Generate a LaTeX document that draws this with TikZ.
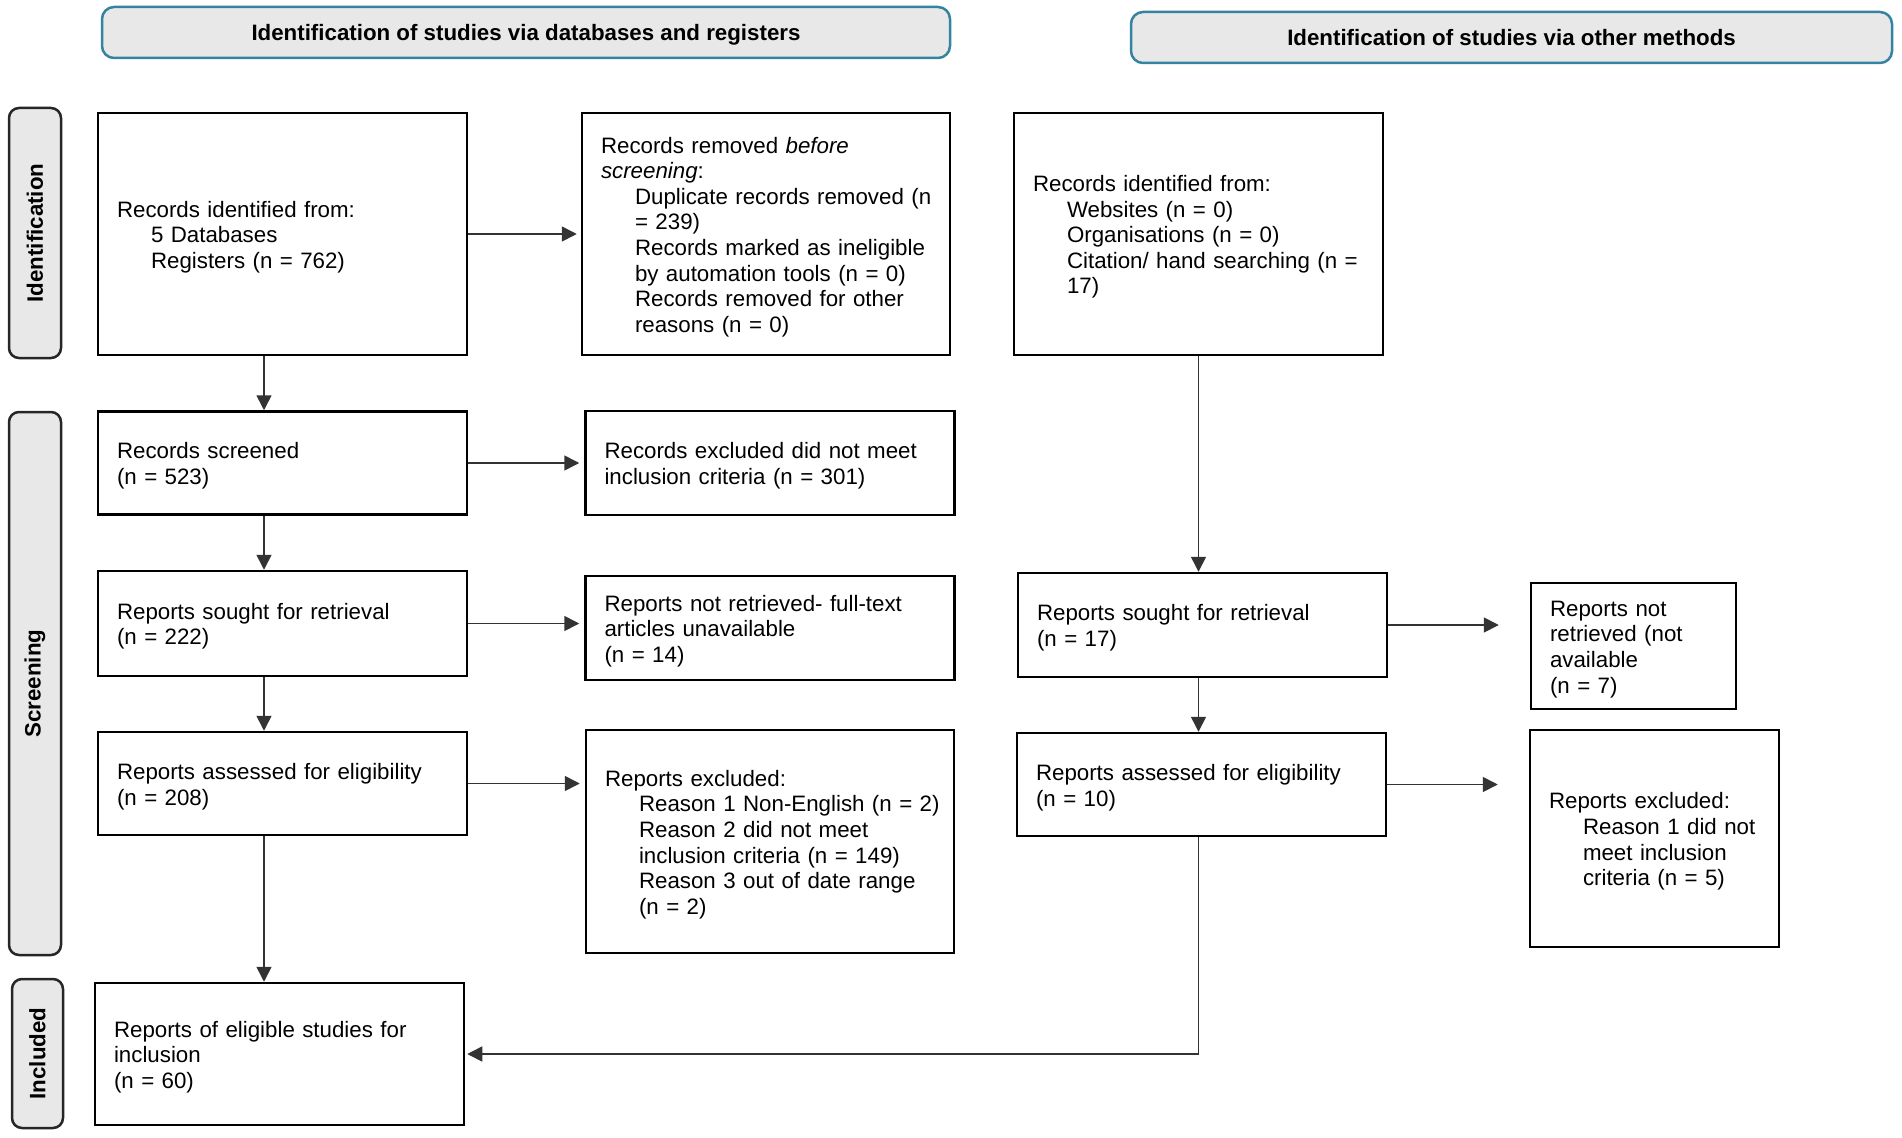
\documentclass[tikz,border=0pt]{standalone}
\usepackage{fontspec}
\setmainfont{Liberation Sans}
\usetikzlibrary{arrows.meta,positioning}

\definecolor{headblue}{RGB}{52,131,160}
\definecolor{panelgray}{RGB}{232,232,232}
\newcommand{\subline}[1]{\hspace*{34pt}\mbox{#1}}

\begin{document}
\begin{tikzpicture}[x=1pt, y=-1pt,
    every node/.style={font=\fontsize{22.3}{25.6}\selectfont},
    box/.style 2 args={draw, line width=2.5pt, align=left, inner xsep=19pt, inner ysep=0pt,
        text width=#1pt, minimum width=#1pt+38pt, minimum height=#2pt,
        execute at begin node={\rule{0pt}{22pt}}},
    header/.style={draw=headblue, fill=panelgray, line width=2.5pt, rounded corners=12pt,
        text depth=0pt, font=\bfseries\fontsize{22.3}{25.6}\selectfont},
    phase/.style={draw=black!85, fill=panelgray, line width=2.5pt, rounded corners=10pt,
        rotate=90, font=\bfseries\fontsize{22.3}{25.6}\selectfont},
    conn/.style={draw=black!80, line width=1.6pt, -{Triangle[length=15pt,width=15pt]}}]
    \useasboundingbox (0,0) rectangle (1902,1137);

    % Headers
    \node[header, minimum width=848pt, minimum height=51pt] (headDb) at (526,32.5)
        {Identification of studies via databases and registers};
    \node[header, minimum width=761pt, minimum height=51pt] (headOther) at (1511.5,37.5)
        {Identification of studies via other methods};

    % Phase labels
    \node[phase, minimum width=250pt, minimum height=52pt] (phaseId) at (35,233) {Identification};
    \node[phase, minimum width=543pt, minimum height=52pt] (phaseScr) at (35,683.5) {Screening};
    \node[phase, minimum width=149pt, minimum height=51pt] (phaseInc) at (37.5,1053.5) {Included};

    % Databases and registers
    \node[box={331}{242}] (idDb) at (282.5,234)
        {Records identified from:\\ \subline{5 Databases}\\ \subline{Registers (n = 762)}};
    \node[box={330}{242}] (remDb) at (766,234)
        {Records removed \textit{before}\\ \textit{screening}:\\
         \subline{Duplicate records removed (n}\\ \subline{= 239)}\\
         \subline{Records marked as ineligible}\\ \subline{by automation tools (n = 0)}\\
         \subline{Records removed for other}\\ \subline{reasons (n = 0)}};
    \node[box={331}{103}] (scrDb) at (282.5,463) {Records screened\\ (n = 523)};
    \node[box={331}{104}] (exclDb) at (770,463)
        {Records excluded did not meet\\ inclusion criteria (n = 301)};
    \node[box={331}{105}] (soughtDb) at (282.5,623.5) {Reports sought for retrieval\\ (n = 222)};
    \node[box={331}{104}] (notRetDb) at (770,628)
        {Reports not retrieved- full-text\\ articles unavailable\\ (n = 14)};
    \node[box={331}{103}] (assessDb) at (282.5,783.5) {Reports assessed for eligibility\\ (n = 208)};
    \node[box={330}{223}] (exclRepDb) at (770,841.5)
        {Reports excluded:\\ \subline{Reason 1 Non-English (n = 2)}\\
         \subline{Reason 2 did not meet}\\ \subline{inclusion criteria (n = 149)}\\
         \subline{Reason 3 out of date range}\\ \subline{(n = 2)}};
    \node[box={331}{142}] (incl) at (279.5,1054)
        {Reports of eligible studies for\\ inclusion\\ (n = 60)};

    % Other methods
    \node[box={331}{242}] (idOther) at (1198.5,234)
        {Records identified from:\\ \subline{Websites (n = 0)}\\ \subline{Organisations (n = 0)}\\
         \subline{Citation/ hand searching (n =}\\ \subline{17)}};
    \node[box={331}{104}] (soughtOther) at (1202.5,625) {Reports sought for retrieval\\ (n = 17)};
    \node[box={167}{126}] (notRetOther) at (1633.5,646)
        {Reports not\\ retrieved (not\\ available\\ (n = 7)};
    \node[box={331}{103}] (assessOther) at (1201.5,784.5) {Reports assessed for eligibility\\ (n = 10)};
    \node[box={211}{217}] (exclOther) at (1654.5,838.5)
        {Reports excluded:\\ \subline{Reason 1 did not}\\ \subline{meet inclusion}\\ \subline{criteria (n = 5)}};

    % Connectors
    \coordinate (leftCol) at (264,0);
    \coordinate (rightCol) at (1198.5,0);
    \draw[conn, shorten >=4pt] (idDb.east) -- (remDb.west |- idDb.east);
    \draw[conn, shorten >=5pt] (scrDb.east) -- (exclDb.west |- scrDb.east);
    \draw[conn, shorten >=5pt] (soughtDb.east) -- (notRetDb.west |- soughtDb.east);
    \draw[conn, shorten >=5pt] (assessDb.east) -- (exclRepDb.west |- assessDb.east);
    \draw[conn] (idDb.south -| leftCol) -- (scrDb.north -| leftCol);
    \draw[conn] (scrDb.south -| leftCol) -- (soughtDb.north -| leftCol);
    \draw[conn] (soughtDb.south -| leftCol) -- (assessDb.north -| leftCol);
    \draw[conn] (assessDb.south -| leftCol) -- (incl.north -| leftCol);
    \draw[conn] (idOther.south -| rightCol) -- (soughtOther.north -| rightCol);
    \draw[conn] (soughtOther.south -| rightCol) -- (assessOther.north -| rightCol);
    \draw[conn, shorten >=31pt] (soughtOther.east) -- (notRetOther.west |- soughtOther.east);
    \draw[conn, shorten >=31pt] (assessOther.east) -- (exclOther.west |- assessOther.east);
    \draw[conn, shorten >=2pt] (assessOther.south -| rightCol) |- (incl.east);
\end{tikzpicture}
\end{document}
